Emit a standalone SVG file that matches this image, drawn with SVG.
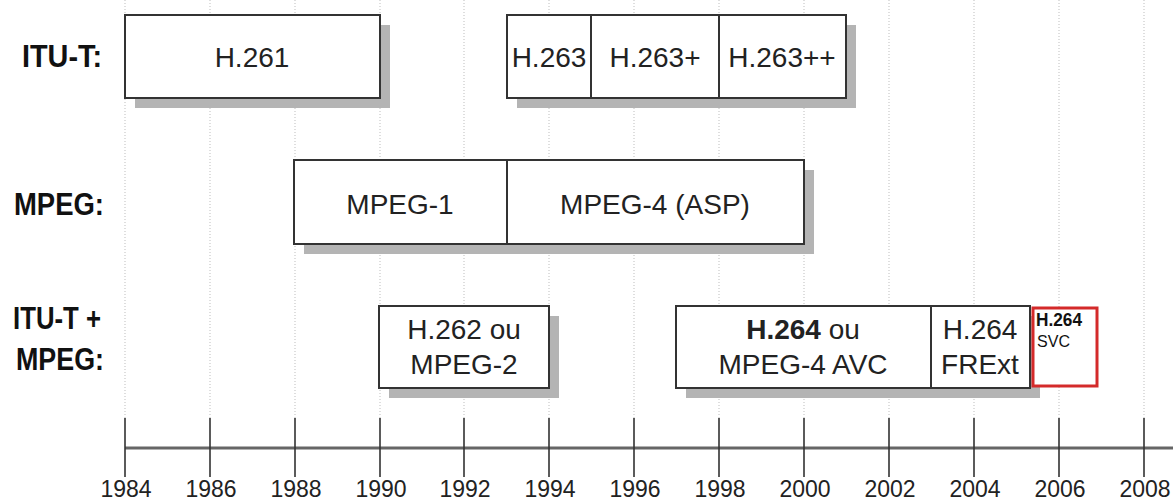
<svg xmlns="http://www.w3.org/2000/svg" width="1173" height="501" viewBox="0 0 1173 501">
<style>
.grid{stroke:#bdbdbd;stroke-width:1;stroke-dasharray:1,2;fill:none}
.box{fill:#fff;stroke:#333;stroke-width:2}
.shadow{fill:#b4b4b4}
.div{stroke:#333;stroke-width:2}
.lbl{font-family:"Liberation Sans",Arial,sans-serif;font-weight:bold;font-size:31px;fill:#111}
.t{font-family:"Liberation Sans",Arial,sans-serif;font-size:28px;fill:#222;text-anchor:middle}
.yr{font-family:"Liberation Sans",Arial,sans-serif;font-size:23px;fill:#222;text-anchor:middle}
.tick{stroke:#333;stroke-width:1.6}
.axis{stroke:#666;stroke-width:3}
</style>
<rect width="1173" height="501" fill="#fff"/>
<g id="grid">
<path class="grid" d="M125 0V420M210 0V420M295 0V420M380 0V420M464 0V420M549 0V420M634 0V420M719 0V420M804 0V420M889 0V420M974 0V420M1059 0V420M1144 0V420"/>
</g>
<g id="labels">
<text class="lbl" x="22" y="67" textLength="80" lengthAdjust="spacingAndGlyphs">ITU-T:</text>
<text class="lbl" x="14" y="215" textLength="90" lengthAdjust="spacingAndGlyphs">MPEG:</text>
<text class="lbl" x="13" y="329" textLength="88" lengthAdjust="spacingAndGlyphs">ITU-T +</text>
<text class="lbl" x="16" y="370" textLength="88" lengthAdjust="spacingAndGlyphs">MPEG:</text>
</g>
<g id="h261">
<rect class="shadow" x="135" y="25" width="255" height="83"/>
<rect class="box" x="125" y="15" width="255" height="83"/>
<text class="t" x="252" y="67">H.261</text>
</g>
<g id="h263group">
<rect class="shadow" x="517" y="25" width="339" height="83"/>
<rect class="box" x="507" y="15" width="339" height="83"/>
<line class="div" x1="591" y1="15" x2="591" y2="98"/>
<line class="div" x1="719" y1="15" x2="719" y2="98"/>
<text class="t" x="549" y="67">H.263</text>
<text class="t" x="655" y="67">H.263+</text>
<text class="t" x="782" y="67">H.263++</text>
</g>
<g id="mpeg">
<rect class="shadow" x="304" y="170" width="510" height="84"/>
<rect class="box" x="294" y="160" width="510" height="84"/>
<line class="div" x1="507" y1="160" x2="507" y2="244"/>
<text class="t" x="400" y="214">MPEG-1</text>
<text class="t" x="655" y="214">MPEG-4 (ASP)</text>
</g>
<g id="h262">
<rect class="shadow" x="389" y="316" width="170" height="82"/>
<rect class="box" x="379" y="306" width="170" height="82"/>
<text class="t" x="464" y="339">H.262 ou</text>
<text class="t" x="464" y="374">MPEG-2</text>
</g>
<g id="h264">
<rect class="shadow" x="686" y="316" width="354" height="82"/>
<rect class="box" x="676" y="306" width="354" height="82"/>
<line class="div" x1="931" y1="306" x2="931" y2="388"/>
<text class="t" x="803" y="339"><tspan font-weight="bold">H.264</tspan> ou</text>
<text class="t" x="803" y="374">MPEG-4 AVC</text>
<text class="t" x="980" y="339">H.264</text>
<text class="t" x="980" y="374">FRExt</text>
</g>
<g id="svc">
<rect x="1033" y="308" width="64" height="78" fill="#fff" stroke="#d42a2a" stroke-width="3"/>
<text x="1036" y="326" font-family="'Liberation Sans',Arial,sans-serif" font-weight="bold" font-size="19" fill="#111" textLength="46" lengthAdjust="spacingAndGlyphs">H.264</text>
<text x="1037" y="347" font-family="'Liberation Sans',Arial,sans-serif" font-size="17" fill="#111" textLength="33" lengthAdjust="spacingAndGlyphs">SVC</text>
</g>
<g id="axis">
<line class="axis" x1="125" y1="448" x2="1173" y2="448"/>
<path class="tick" d="M125 418V477M210 418V477M295 418V477M380 418V477M464 418V477M549 418V477M634 418V477M719 418V477M804 418V477M889 418V477M974 418V477M1059 418V477M1144 418V477"/>
<text class="yr" x="126" y="497">1984</text>
<text class="yr" x="211" y="497">1986</text>
<text class="yr" x="296" y="497">1988</text>
<text class="yr" x="381" y="497">1990</text>
<text class="yr" x="465" y="497">1992</text>
<text class="yr" x="550" y="497">1994</text>
<text class="yr" x="635" y="497">1996</text>
<text class="yr" x="720" y="497">1998</text>
<text class="yr" x="805" y="497">2000</text>
<text class="yr" x="890" y="497">2002</text>
<text class="yr" x="975" y="497">2004</text>
<text class="yr" x="1060" y="497">2006</text>
<text class="yr" x="1145" y="497">2008</text>
</g>
</svg>
